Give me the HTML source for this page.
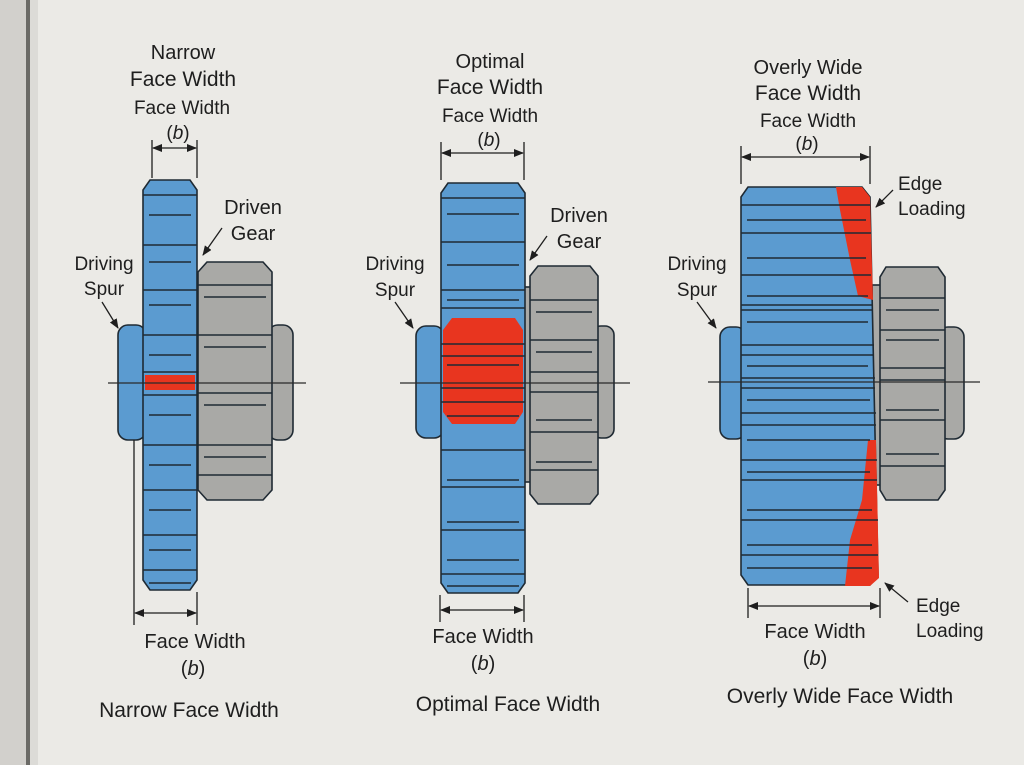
<!DOCTYPE html>
<html><head><meta charset="utf-8"><style>
html,body{margin:0;padding:0;width:1024px;height:765px;overflow:hidden;background:#ebeae6}
svg{display:block}
text{font-family:"Liberation Sans",Arial,sans-serif;fill:#1e1e1e}
</style></head><body>
<svg width="1024" height="765" viewBox="0 0 1024 765">
<defs>
<marker id="ar" markerWidth="10" markerHeight="8" refX="9" refY="4" orient="auto" markerUnits="userSpaceOnUse"><path d="M0,0 L10,4 L0,8 Z" fill="#1e1e1e"/></marker>
<marker id="al" markerWidth="10" markerHeight="8" refX="1" refY="4" orient="auto" markerUnits="userSpaceOnUse"><path d="M10,0 L0,4 L10,8 Z" fill="#1e1e1e"/></marker>
</defs>
<rect x="0" y="0" width="1024" height="765" fill="#ebeae6"/>
<rect x="0" y="0" width="26" height="765" fill="#d2d0cc"/>
<rect x="26" y="0" width="4" height="765" fill="#6b6a66"/>
<rect x="30" y="0" width="8" height="765" fill="#dcdbd7"/>

<g stroke="#1f2a33" stroke-width="1.6">
<!-- ===== GEAR 1 ===== -->
<rect x="118" y="325" width="28" height="115" rx="10" fill="#5b9bd0"/>
<rect x="268" y="325" width="25" height="115" rx="10" fill="#a9a9a6"/>
<rect x="194" y="282" width="8" height="200" fill="#a9a9a6"/>
<polygon points="207,262 263,262 272,272 272,490 263,500 207,500 198,490 198,272" fill="#a9a9a6"/>
<path d="M198 285H272M204 297H266M198 335H272M204 347H266M198 393H272M204 405H266M198 445H272M204 457H266M198 475H272" fill="none"/>
<polygon points="150,180 190,180 197,190 197,580 190,590 150,590 143,580 143,190" fill="#5b9bd0"/>
<rect x="145" y="375" width="50" height="15" fill="#e8351f" stroke="none"/>
<path d="M143 195H197M149 215H191M143 245H197M149 262H191M143 290H197M149 305H191M143 335H197M149 355H191M143 372H197M143 395H197M149 415H191M143 445H197M149 465H191M143 490H197M149 510H191M143 535H197M149 550H191M143 570H197M149 583H191" fill="none"/>
<!-- ===== GEAR 2 ===== -->
<rect x="416" y="326" width="28" height="112" rx="10" fill="#5b9bd0"/>
<rect x="592" y="326" width="22" height="112" rx="9" fill="#a9a9a6"/>
<rect x="523" y="287" width="9" height="195" fill="#a9a9a6"/>
<polygon points="538,266 590,266 598,276 598,494 590,504 538,504 530,494 530,276" fill="#a9a9a6"/>
<path d="M530 300H598M536 312H592M530 340H598M536 352H592M530 372H598M530 392H598M536 420H592M530 432H598M536 462H592M530 470H598" fill="none"/>
<polygon points="448,183 518,183 525,193 525,583 518,593 448,593 441,583 441,193" fill="#5b9bd0"/>
<polygon points="452,318 515,318 523,330 523,412 515,424 452,424 443,412 443,330" fill="#e8351f" stroke="none"/>
<path d="M441 198H525M447 214H519M441 242H525M447 265H519M441 290H525M447 300H519M441 308H525M441 344H525M441 356H525M447 365H519M441 388H525M441 402H525M447 416H519M441 450H525M447 480H519M441 487H525M447 522H519M441 530H525M447 560H519M441 574H525M447 586H519" fill="none"/>
<!-- ===== GEAR 3 ===== -->
<rect x="720" y="327" width="26" height="112" rx="10" fill="#5b9bd0"/>
<rect x="938" y="327" width="26" height="112" rx="10" fill="#a9a9a6"/>
<rect x="872" y="285" width="10" height="200" fill="#a9a9a6"/>
<polygon points="886,267 938,267 945,277 945,490 938,500 886,500 880,490 880,277" fill="#a9a9a6"/>
<path d="M880 298H945M886 310H939M880 330H945M886 340H939M880 368H945M880 380H945M886 410H939M880 420H945M886 454H939M880 466H945" fill="none"/>
<polygon points="748,187 862,187 870,197 878,575 870,585 748,585 741,575 741,197" fill="#5b9bd0"/>
<path d="M836,187 L862,187 L870,197 L873,300 L858,296 L850,260 L840,210 Z" fill="#e8351f" stroke="none"/>
<path d="M868,440 L876,440 L879,578 L870,586 L845,586 L850,540 L862,500 Z" fill="#e8351f" stroke="none"/>
<path d="M741 205H870M747 220H866M741 233H871M747 258H866M741 275H871M747 296H868M741 305H873M741 310H873M747 322H868M741 345H874M741 355H874M747 366H868M741 378H875M741 388H875M747 400H870M741 413H876M741 425H876M747 440H870M741 460H877M747 472H870M741 480H877M747 510H872M741 520H878M747 545H872M741 555H878M747 568H872" fill="none"/>
</g>

<!-- axis lines -->
<g stroke="#2a2a2a" stroke-width="1.2">
<line x1="108" y1="383" x2="306" y2="383"/>
<line x1="400" y1="383" x2="630" y2="383"/>
<line x1="708" y1="382" x2="980" y2="382"/>
</g>

<!-- dimension lines -->
<g stroke="#1e1e1e" stroke-width="1.3" fill="none">
<line x1="152" y1="140" x2="152" y2="178"/><line x1="197" y1="140" x2="197" y2="178"/>
<line x1="153" y1="148" x2="196" y2="148" marker-start="url(#al)" marker-end="url(#ar)"/>
<line x1="134" y1="440" x2="134" y2="625"/><line x1="197" y1="592" x2="197" y2="625"/>
<line x1="135" y1="613" x2="196" y2="613" marker-start="url(#al)" marker-end="url(#ar)"/>

<line x1="441" y1="142" x2="441" y2="180"/><line x1="524" y1="142" x2="524" y2="180"/>
<line x1="442" y1="153" x2="523" y2="153" marker-start="url(#al)" marker-end="url(#ar)"/>
<line x1="440" y1="595" x2="440" y2="622"/><line x1="524" y1="595" x2="524" y2="622"/>
<line x1="441" y1="610" x2="523" y2="610" marker-start="url(#al)" marker-end="url(#ar)"/>

<line x1="741" y1="146" x2="741" y2="184"/><line x1="870" y1="146" x2="870" y2="184"/>
<line x1="742" y1="157" x2="869" y2="157" marker-start="url(#al)" marker-end="url(#ar)"/>
<line x1="748" y1="588" x2="748" y2="618"/><line x1="880" y1="588" x2="880" y2="618"/>
<line x1="749" y1="606" x2="879" y2="606" marker-start="url(#al)" marker-end="url(#ar)"/>

<!-- leader arrows -->
<line x1="222" y1="228" x2="203" y2="255" marker-end="url(#ar)"/>
<line x1="102" y1="302" x2="118" y2="328" marker-end="url(#ar)"/>
<line x1="547" y1="236" x2="530" y2="260" marker-end="url(#ar)"/>
<line x1="395" y1="302" x2="413" y2="328" marker-end="url(#ar)"/>
<line x1="697" y1="302" x2="716" y2="328" marker-end="url(#ar)"/>
<line x1="893" y1="190" x2="876" y2="207" marker-end="url(#ar)"/>
<line x1="908" y1="602" x2="885" y2="583" marker-end="url(#ar)"/>
</g>

<!-- text -->
<g text-anchor="middle">
<text x="183" y="59" font-size="20">Narrow</text>
<text x="183" y="86" font-size="21">Face Width</text>
<text x="182" y="114" font-size="19">Face Width</text>
<text x="178" y="139" font-size="19">(<tspan font-style="italic">b</tspan>)</text>
<text x="253" y="214" font-size="20">Driven</text>
<text x="253" y="240" font-size="20">Gear</text>
<text x="104" y="270" font-size="19">Driving</text>
<text x="104" y="295" font-size="19">Spur</text>
<text x="195" y="648" font-size="20">Face Width</text>
<text x="193" y="675" font-size="20">(<tspan font-style="italic">b</tspan>)</text>
<text x="189" y="717" font-size="21">Narrow Face Width</text>

<text x="490" y="68" font-size="20">Optimal</text>
<text x="490" y="94" font-size="21">Face Width</text>
<text x="490" y="122" font-size="19">Face Width</text>
<text x="489" y="146" font-size="19">(<tspan font-style="italic">b</tspan>)</text>
<text x="579" y="222" font-size="20">Driven</text>
<text x="579" y="248" font-size="20">Gear</text>
<text x="395" y="270" font-size="19">Driving</text>
<text x="395" y="296" font-size="19">Spur</text>
<text x="483" y="643" font-size="20">Face Width</text>
<text x="483" y="670" font-size="20">(<tspan font-style="italic">b</tspan>)</text>
<text x="508" y="711" font-size="21">Optimal Face Width</text>

<text x="808" y="74" font-size="20">Overly Wide</text>
<text x="808" y="100" font-size="21">Face Width</text>
<text x="808" y="127" font-size="19">Face Width</text>
<text x="807" y="150" font-size="19">(<tspan font-style="italic">b</tspan>)</text>
<text x="697" y="270" font-size="19">Driving</text>
<text x="697" y="296" font-size="19">Spur</text>
<text x="815" y="638" font-size="20">Face Width</text>
<text x="815" y="665" font-size="20">(<tspan font-style="italic">b</tspan>)</text>
<text x="840" y="703" font-size="21">Overly Wide Face Width</text>
</g>
<text x="898" y="190" font-size="19">Edge</text>
<text x="898" y="215" font-size="19">Loading</text>
<text x="916" y="612" font-size="19">Edge</text>
<text x="916" y="637" font-size="19">Loading</text>
</svg>
</body></html>
